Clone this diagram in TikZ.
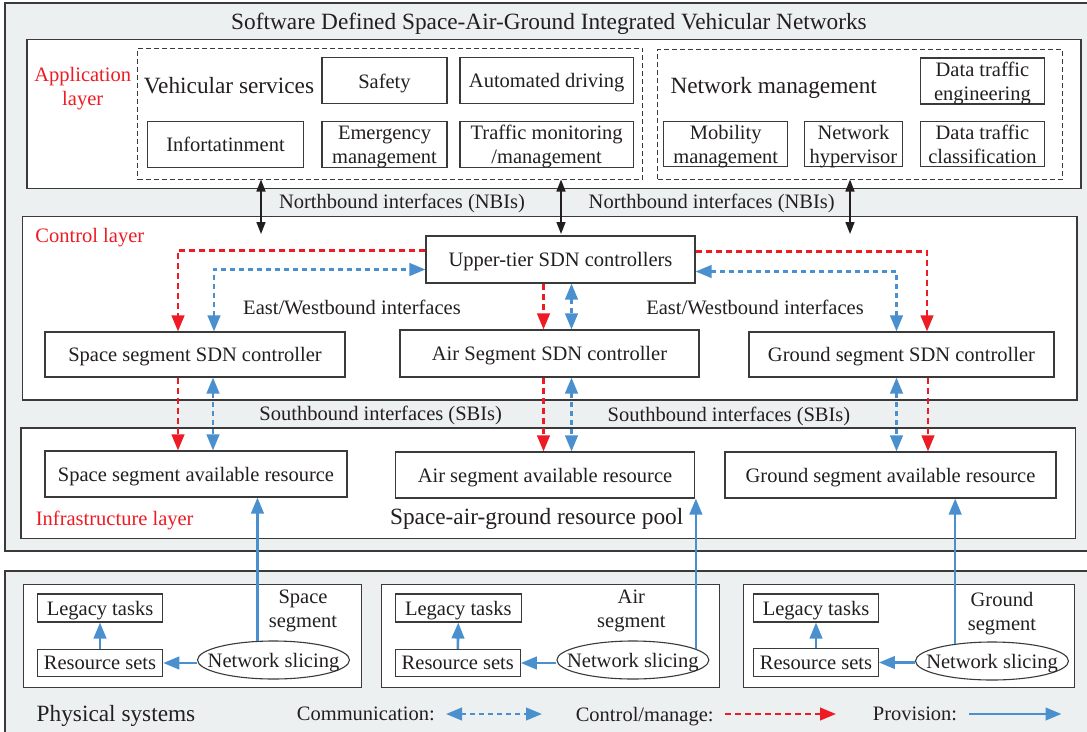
\documentclass[tikz,border=0pt]{standalone}
\usepackage{fontspec}
\setmainfont{Liberation Serif}
\usetikzlibrary{arrows.meta,shapes.geometric,calc}
\definecolor{bgray}{HTML}{EDF0F1}
\definecolor{boxc}{HTML}{3A3A3A}
\definecolor{txt}{HTML}{231F20}
\definecolor{myblue}{HTML}{4A90CF}
\definecolor{myred}{HTML}{ED1C24}
\newcommand\myfs{\fontsize{20.5}{24}\selectfont}
\newcommand\mybig{\fontsize{23.3}{26}\selectfont}
\begin{document}
\begin{tikzpicture}[x=1pt,y=-1pt,
 layerbox/.style={draw=boxc,line width=1.2pt},
 box/.style={draw=boxc,line width=1.1pt,fill=white,inner sep=0pt,align=center,text=txt,font=\myfs,text depth=0pt},
 lbl/.style={text=txt,font=\myfs,inner sep=0pt,align=center,text depth=0pt},
 biglbl/.style={text=txt,font=\mybig,inner sep=0pt,align=center,text depth=0pt},
 redlbl/.style={text=myred,font=\myfs,inner sep=0pt,align=center,text depth=0pt},
 dbox/.style={draw=boxc,line width=1pt,dash pattern=on 5pt off 3pt,inner sep=0pt},
 ell/.style={draw=boxc,line width=1.1pt,ellipse,fill=white,inner sep=0pt,minimum width=152pt,minimum height=38pt},
 elltext/.style={font=\myfs,text=txt,text depth=0pt,inner sep=0pt},
 ctl/.style={draw=myred,line width=2.6pt,dash pattern=on 6pt off 4pt,-{Triangle[length=16pt,width=12.5pt]}},
 comm/.style={draw=myblue,line width=2.6pt,dash pattern=on 5pt off 4pt,{Triangle[length=16pt,width=12.5pt]}-{Triangle[length=16pt,width=12.5pt]}},
 prov/.style={draw=myblue,line width=2.6pt,-{Triangle[length=16pt,width=12.5pt]}},
 nb/.style={draw=txt,line width=1.6pt,{Triangle[length=12pt,width=9pt]}-{Triangle[length=12pt,width=9pt]}},
]
\useasboundingbox (0,0) rectangle (1087,731);
\fill[white] (0,0) rectangle (1087,731);
% layer backgrounds
\draw[layerbox,fill=bgray] (5,3) rectangle (1090,551);
\draw[layerbox,fill=bgray] (5,571) rectangle (1090,740);
\draw[layerbox,fill=white] (27,39.6) rectangle (1081,188.7);
\draw[layerbox,fill=white] (22.6,216.7) rectangle (1077,400);
\draw[layerbox,fill=white] (21,428) rectangle (1075.5,538.3);
\draw[layerbox,fill=white] (23.3,584.8) rectangle (361.3,687.3);
\draw[layerbox,fill=white] (381.5,584.8) rectangle (719.6,687.3);
\draw[layerbox,fill=white] (743.3,584.8) rectangle (1074.4,687.3);

% title and layer labels
\node[biglbl] (title) at (549,21) {Software Defined Space-Air-Ground Integrated Vehicular Networks};
\node[redlbl] (applbl) at (82.7,86.5) {Application\\layer};
\node[redlbl] (ctllbl) at (89.8,235) {Control layer};
\node[redlbl] (inflbl) at (114.7,518.5) {Infrastructure layer};

% application layer
\node[dbox,minimum width=505.2pt,minimum height=131pt] (vs) at (390.2,113.5) {};
\node[dbox,minimum width=404.5pt,minimum height=130pt] (nm) at (859.75,114) {};
\node[biglbl] (vslbl) at (229,85) {Vehicular services};
\node[biglbl] (nmlbl) at (773.7,85) {Network management};
\node[box,minimum width=125pt,minimum height=46pt] (safety) at (384.5,80.8) {Safety};
\node[box,minimum width=173.4pt,minimum height=46pt] (auto) at (546.7,80.8) {Automated driving};
\node[box,minimum width=156pt,minimum height=46pt] (info) at (225.5,144.7) {Infortatinment};
\node[box,minimum width=125pt,minimum height=46pt] (emer) at (384.5,144.7) {Emergency\\management};
\node[box,minimum width=173.4pt,minimum height=46pt] (traf) at (546.7,144.7) {Traffic monitoring\\/management};
\node[box,minimum width=124.7pt,minimum height=46pt] (dte) at (982.4,81) {Data traffic\\engineering};
\node[box,minimum width=123.8pt,minimum height=45pt] (mob) at (725.7,144.2) {Mobility\\management};
\node[box,minimum width=98.7pt,minimum height=45pt] (hyp) at (853.4,144.2) {Network\\hypervisor};
\node[box,minimum width=124.7pt,minimum height=45pt] (dtc) at (982.4,144.2) {Data traffic\\classification};

% northbound
\node[lbl] (nbl1) at (402,201) {Northbound interfaces (NBIs)};
\node[lbl] (nbl2) at (711.7,201) {Northbound interfaces (NBIs)};
\coordinate (nb1) at (261,234);
\coordinate (nb2) at (561,234);
\coordinate (nb3) at (850,234);
\draw[nb] (nb1 |- vs.south) -- (nb1);
\draw[nb] (nb2 |- vs.south) -- (nb2);
\draw[nb] (nb3 |- nm.south) -- (nb3);

% control layer
\node[box,minimum width=269pt,minimum height=47pt] (up) at (560.5,259.5) {Upper-tier SDN controllers};
\node[box,minimum width=300pt,minimum height=45pt] (sc) at (195,354.5) {Space segment SDN controller};
\node[box,minimum width=299pt,minimum height=47pt] (ac) at (549.5,353.5) {Air Segment SDN controller};
\node[box,minimum width=305pt,minimum height=45pt] (gc) at (901.5,354.5) {Ground segment SDN controller};
\node[lbl] (ew1) at (352,307) {East/Westbound interfaces};
\node[lbl] (ew2) at (755,307.5) {East/Westbound interfaces};

\draw[ctl] ([yshift=9pt]up.west) -| ([xshift=-17pt]sc.north);
\draw[comm] ([xshift=19pt]sc.north) |- ([yshift=-10pt]up.west);
\draw[ctl] ([yshift=8pt]up.east) -| ([xshift=25.5pt]gc.north);
\draw[comm] ([yshift=-12pt]up.east) -| ([xshift=-5pt]gc.north);
\coordinate (ar) at ([xshift=-6pt]ac.north);
\coordinate (ab) at ([xshift=22pt]ac.north);
\draw[ctl] (ar |- up.south) -- (ar);
\draw[comm] (ab |- up.south) -- (ab);

% infrastructure layer
\node[box,minimum width=302pt,minimum height=46pt] (sr) at (196,474) {Space segment available resource};
\node[box,minimum width=299pt,minimum height=46pt] (arr) at (545,475) {Air segment available resource};
\node[box,minimum width=331pt,minimum height=46pt] (gr) at (890.5,475) {Ground segment available resource};
\node[biglbl] (pool) at (536.7,516) {Space-air-ground resource pool};

% southbound
\node[lbl] (sb1) at (380.7,413.5) {Southbound interfaces (SBIs)};
\node[lbl] (sb2) at (729,414) {Southbound interfaces (SBIs)};
\coordinate (sr1) at ([xshift=-17pt]sc.south);
\coordinate (sb1c) at ([xshift=18pt]sc.south);
\draw[ctl] (sr1) -- (sr1 |- sr.north);
\draw[comm] (sb1c) -- (sb1c |- sr.north);
\coordinate (ar2) at ([xshift=-6pt]ac.south);
\coordinate (ab2) at ([xshift=22pt]ac.south);
\draw[ctl] (ar2) -- (ar2 |- arr.north);
\draw[comm] (ab2) -- (ab2 |- arr.north);
\coordinate (gb2) at ([xshift=-5pt]gc.south);
\coordinate (gr2) at ([xshift=26.5pt]gc.south);
\draw[comm] (gb2) -- (gb2 |- gr.north);
\draw[ctl] (gr2) -- (gr2 |- gr.north);

% physical systems
\node[box,minimum width=125.4pt,minimum height=28pt] (lt1) at (100,608) {Legacy tasks};
\node[box,minimum width=125.4pt,minimum height=27pt] (rs1) at (100,663) {Resource sets};
\node[ell,label={[elltext]center:Network slicing}] (ns1) at (273.5,660) {};
\node[lbl] (seg1) at (303,609) {Space\\segment};

\node[box,minimum width=125.5pt,minimum height=28pt] (lt2) at (458.3,608) {Legacy tasks};
\node[box,minimum width=125pt,minimum height=27pt] (rs2) at (457.8,663) {Resource sets};
\node[ell,label={[elltext]center:Network slicing}] (ns2) at (632.9,660) {};
\node[lbl] (seg2) at (631.4,609) {Air\\segment};

\node[box,minimum width=124.8pt,minimum height=28pt] (lt3) at (816,608) {Legacy tasks};
\node[box,minimum width=124.8pt,minimum height=28pt] (rs3) at (816,662.5) {Resource sets};
\node[ell,minimum width=153pt,label={[elltext]center:Network slicing}] (ns3) at (992,661) {};
\node[lbl] (seg3) at (1002,611) {Ground\\segment};

\draw[prov] (rs1.north) -- (lt1.south);
\draw[prov] (rs2.north) -- (lt2.south);
\draw[prov] (rs3.north) -- (lt3.south);
\draw[prov] (ns1.west |- rs1.east) -- (rs1.east);
\draw[prov] (ns2.west |- rs2.east) -- (rs2.east);
\draw[prov] (ns3.west |- rs3.east) -- (rs3.east);
\draw[prov] (ns1.130) -- (ns1.130 |- sr.south);
\draw[prov] (ns2.10) -- (ns2.10 |- arr.south);
\draw[prov] (ns3.155) -- (ns3.155 |- gr.south);

% legend
\node[biglbl] (phys) at (116,713) {Physical systems};
\node[lbl] (lcomm) at (365.8,714) {Communication:};
\node[lbl] (lctl) at (644.7,714) {Control/manage:};
\node[lbl] (lprov) at (915,714) {Provision:};
\coordinate (lc1) at (446,714);
\coordinate (lc2) at (542,714);
\coordinate (lr1) at (725,714);
\coordinate (lr2) at (836,714);
\coordinate (lp1) at (969,714);
\coordinate (lp2) at (1061.5,714);
\draw[comm] (lc1) -- (lc2);
\draw[ctl] (lr1) -- (lr2);
\draw[prov] (lp1) -- (lp2);
\end{tikzpicture}
\end{document}
